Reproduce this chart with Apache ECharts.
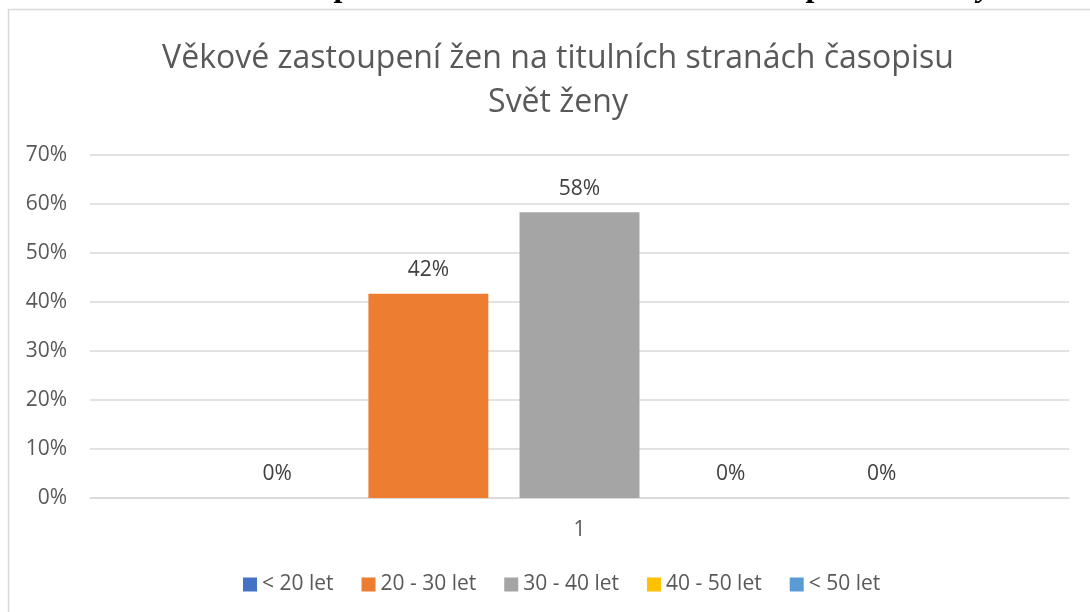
<!DOCTYPE html>
<html lang="cs">
<head>
<meta charset="UTF-8">
<title>Věkové zastoupení žen</title>
<script src="https://cdn.jsdelivr.net/npm/echarts@6/dist/echarts.min.js"></script>
<style>
  html, body { margin: 0; padding: 0; background: #fff; }
  #main { width: 1090px; height: 612px; }
</style>
</head>
<body>
<div id="main"></div>
<script>
// data
var categories = ['1'];
var seriesNames = ['< 20 let', '20 - 30 let', '30 - 40 let', '40 - 50 let', '< 50 let'];
var seriesValues = [[0], [41.67], [58.33], [0], [0]];
var seriesColors = ['#4472C4', '#ED7D31', '#A5A5A5', '#FFC000', '#5B9BD5'];
var yTicks = { min: 0, max: 70, step: 10 };

var font = 'Open Sans';
var chart = echarts.init(document.getElementById('main'));

var series = seriesNames.map(function (name, i) {
    return {
        name: name,
        type: 'bar',
        data: seriesValues[i],
        barGap: '26%',
        barCategoryGap: '26%',
        itemStyle: { color: seriesColors[i] },
        label: {
            show: true,
            position: 'top',
            distance: 13,
            fontFamily: font,
            fontSize: 21,
            color: '#404040',
            formatter: function (p) { return Math.round(p.value) + '%'; }
        }
    };
});

chart.setOption({
    animation: false,
    title: {
        text: 'Věkové zastoupení žen na titulních stranách časopisu\nSvět ženy',
        left: 553,
        top: 32,
        textAlign: 'center',
        textStyle: {
            fontFamily: font,
            fontSize: 32,
            fontWeight: 'normal',
            color: '#595959',
            lineHeight: 44
        }
    },
    graphic: [
        {
            type: 'rect',
            z: -1,
            shape: { x: 8.5, y: 9.5, width: 1200, height: 800 },
            style: { fill: null, stroke: '#d9d9d9', lineWidth: 1.5 }
        },
        {
            type: 'text',
            left: 7,
            top: -28,
            style: {
                text: 'Graf 2 –',
                font: 'bold 32px "Liberation Serif"',
                fill: '#000'
            }
        },
        {
            type: 'text',
            left: 137,
            top: -28,
            style: {
                text: 'Věkové zastoupení žen na titulních stranách časopisu {i|Svět ženy}',
                font: 'bold 32px "Liberation Serif"',
                fill: '#000',
                rich: { i: { font: 'italic bold 32px "Liberation Serif"', fill: '#000' } }
            }
        }
    ],
    legend: {
        data: seriesNames,
        left: 238,
        top: 569,
        icon: 'rect',
        itemWidth: 14,
        itemHeight: 14,
        itemGap: 28,
        textStyle: { fontFamily: font, fontSize: 21, color: '#595959' }
    },
    grid: { left: 90, right: 21, top: 155, bottom: 114 },
    xAxis: {
        type: 'category',
        data: categories,
        axisLine: { lineStyle: { color: '#d9d9d9', width: 1.5 } },
        axisTick: { show: false },
        axisLabel: { fontFamily: font, fontSize: 21, color: '#595959', margin: 22 }
    },
    yAxis: {
        type: 'value',
        min: yTicks.min,
        max: yTicks.max,
        interval: yTicks.step,
        axisLine: { show: false },
        axisTick: { show: false },
        splitLine: { lineStyle: { color: '#d9d9d9', width: 1.5 } },
        axisLabel: {
            fontFamily: font,
            fontSize: 21,
            color: '#595959',
            margin: 23,
            formatter: '{value}%'
        }
    },
    series: series
});
</script>
</body>
</html>
